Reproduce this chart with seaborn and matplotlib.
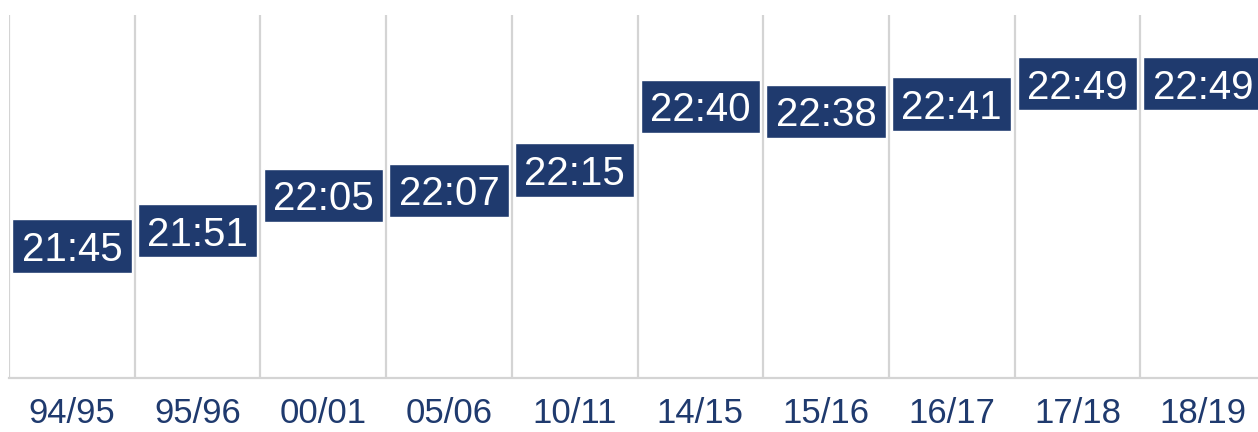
import matplotlib
matplotlib.use("Agg")
import matplotlib.pyplot as plt
import seaborn as sns
import pandas as pd

seasons = ["94/95", "95/96", "00/01", "05/06", "10/11", "14/15", "15/16", "16/17", "17/18", "18/19"]
times = ["21:45", "21:51", "22:05", "22:07", "22:15", "22:40", "22:38", "22:41", "22:49", "22:49"]

minutes = [int(t.split(":")[0]) * 60 + int(t.split(":")[1]) for t in times]

NAVY = "#1f3a6e"
GRID = "#d4d4d4"
BOX_H = 21  # box height in minutes

sns.set_theme(style="white")
plt.rcParams["font.family"] = ["Liberation Sans", "DejaVu Sans"]

df = pd.DataFrame({"season": seasons, "bottom": [m - BOX_H / 2 for m in minutes]})

fig = plt.figure(figsize=(12.58, 4.32), dpi=100)
ax = fig.add_axes([9 / 1258, 54 / 432, 1257 / 1258, 363 / 432])

ax.bar(range(len(seasons)), [BOX_H] * len(seasons), bottom=df["bottom"],
       width=0.95, color=NAVY, zorder=3)
for i, (t, m) in enumerate(zip(times, minutes)):
    ax.text(i, m, t, ha="center", va="center_baseline", color="white",
            fontsize=29, zorder=4)

for b in [k - 0.5 for k in range(len(seasons) + 1)]:
    ax.axvline(b, color=GRID, lw=1.6, zorder=1)

ax.set_xlim(-0.5, len(seasons) - 0.5)
ax.set_ylim(1253, 1396)
ax.set_xticks(range(len(seasons)))
ax.set_xticklabels(seasons, fontsize=25, color=NAVY)
ax.set_yticks([])
ax.tick_params(axis="x", length=0, pad=14)
for s in ["top", "right", "left"]:
    ax.spines[s].set_visible(False)
ax.spines["bottom"].set_color(GRID)
ax.spines["bottom"].set_linewidth(1.6)
ax.set_xlabel("")
ax.set_ylabel("")

fig.savefig("out.png", dpi=100)
